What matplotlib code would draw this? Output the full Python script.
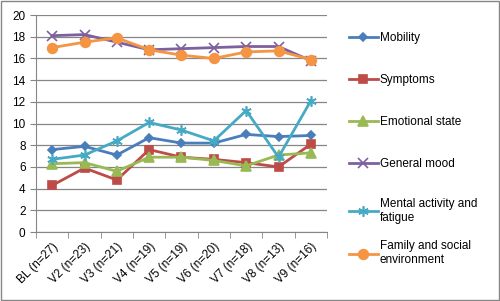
import numpy as np
import matplotlib.pyplot as plt
from matplotlib.patches import Rectangle

plt.rcParams['font.family'] = ['Liberation Sans', 'DejaVu Sans']

# Data
visits = ["BL (n=27)", "V2 (n=23)", "V3 (n=21)", "V4 (n=19)", "V5 (n=19)",
          "V6 (n=20)", "V7 (n=18)", "V8 (n=13)", "V9 (n=16)"]
mobility = [7.6, 7.9, 7.1, 8.7, 8.2, 8.2, 9.0, 8.8, 8.9]
symptoms = [4.3, 5.9, 4.8, 7.6, 6.9, 6.7, 6.4, 6.0, 8.1]
emotional = [6.3, 6.4, 5.6, 6.9, 6.9, 6.6, 6.1, 7.1, 7.3]
general_mood = [18.1, 18.2, 17.5, 16.8, 16.9, 17.0, 17.1, 17.1, 15.8]
mental = [6.7, 7.1, 8.4, 10.1, 9.4, 8.4, 11.2, 6.9, 12.1]
family = [17.0, 17.5, 17.9, 16.8, 16.3, 16.0, 16.6, 16.7, 15.9]

series = [
    ("Mobility", mobility, "#4A7EBB", "D", 4.5),
    ("Symptoms", symptoms, "#BE4B48", "s", 6),
    ("Emotional state", emotional, "#98B954", "^", 6.5),
    ("General mood", general_mood, "#7D60A0", "x", 6.5),
    ("Mental activity and\nfatigue", mental, "#46AAC5", (6, 2, 0), 7.5),
    ("Family and social\nenvironment", family, "#F59443", "o", 7),
]

fig = plt.figure(figsize=(5.0, 3.01), dpi=100)
ax = fig.add_axes([0.072, 0.229, 0.582, 0.721])

x = np.arange(len(visits))
lines = []
for label, vals, color, marker, ms in series:
    ln, = ax.plot(x, vals, color=color, lw=2, marker=marker, ms=ms, mew=1.2,
                  markerfacecolor=color, markeredgecolor=color, label=label)
    lines.append(ln)

ax.set_xlim(-0.5, len(visits) - 0.5)
ax.set_ylim(0, 20)
ax.set_yticks(np.arange(0, 21, 2))
ax.set_xticks(x)
ax.set_xticklabels(visits, rotation=45, ha="right", rotation_mode="anchor")
ax.set_xticks(np.arange(-0.5, len(visits), 1), minor=True)
ax.tick_params(axis="x", which="major", length=0, labelsize=8.5, pad=6)
ax.tick_params(axis="x", which="minor", length=4, color="#868686")
ax.tick_params(axis="y", length=4, color="#868686", labelsize=8.5)
ax.grid(axis="y", color="#868686", lw=0.9)
ax.set_axisbelow(True)
for side in ["top", "right"]:
    ax.spines[side].set_visible(False)
for side in ["left", "bottom"]:
    ax.spines[side].set_color("#868686")

leg_kw = dict(frameon=False, fontsize=8.5, handlelength=2.4, handletextpad=0.2,
              borderaxespad=0, loc="upper left")
leg1 = ax.legend(handles=lines[:4], bbox_to_anchor=(1.06, 0.945),
                 labelspacing=2.55, **leg_kw)
ax.add_artist(leg1)
ax.legend(handles=lines[4:], bbox_to_anchor=(1.06, 0.178),
          labelspacing=1.4, **leg_kw)

fig.patches.append(Rectangle((0.002, 0.003), 0.996, 0.994, transform=fig.transFigure,
                             fill=False, edgecolor="#868686", lw=1))

fig.savefig("out.png", dpi=100)
